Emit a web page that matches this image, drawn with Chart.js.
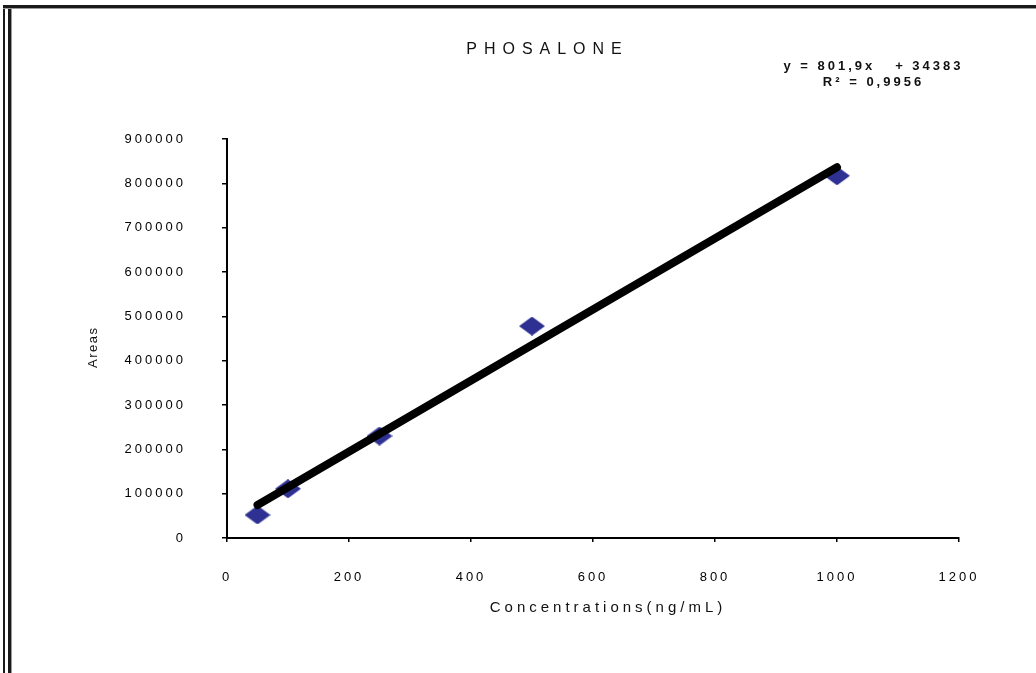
<!DOCTYPE html>
<html>
<head>
<meta charset="utf-8">
<title>PHOSALONE</title>
<script src="https://cdn.jsdelivr.net/npm/chart.js@4"></script>
<style>
  html, body { margin: 0; padding: 0; background: #fff; }
  #wrap { position: relative; width: 1036px; height: 673px; overflow: hidden; }
  .rule { position: absolute; background: #1a1a1a; }
  #chart { position: absolute; left: 0; top: 0; }
</style>
</head>
<body>
<div id="wrap">
  <div class="rule" style="left:3px; top:5px; width:2px; height:668px;"></div>
  <div class="rule" style="left:8px; top:5px; width:3px; height:668px; box-shadow:1px 0 0 #999;"></div>
  <div class="rule" style="left:3px; top:5px; width:1033px; height:3px; box-shadow:0 1px 0 #999;"></div>
  <canvas id="chart" width="1036" height="673"></canvas>
</div>
<script>
// Calibration data
var concentrations = [50, 100, 250, 500, 1000];
var areas = [52000, 111000, 230000, 478000, 817000];

// Linear fit reported on the chart
var slope = 801.9;
var intercept = 34383;
var rSquared = "0,9956";

// Axis ranges
var xMin = 0, xMax = 1200, xStep = 200;
var yMin = 0, yMax = 900000, yStep = 100000;

var fitPoints = [concentrations[0], concentrations[concentrations.length - 1]].map(function (c) {
  return { x: c, y: slope * c + intercept };
});

var points = concentrations.map(function (c, i) {
  return { x: c, y: areas[i] };
});

// Flattened diamond marker
function makeDiamond(w, h, color) {
  var c = document.createElement("canvas");
  c.width = w;
  c.height = h;
  var g = c.getContext("2d");
  g.fillStyle = color;
  g.beginPath();
  g.moveTo(w / 2, 0);
  g.lineTo(w, h / 2);
  g.lineTo(w / 2, h);
  g.lineTo(0, h / 2);
  g.closePath();
  g.fill();
  return c;
}
var diamond = makeDiamond(26, 19, "#2e3192");

var FONT = "'Liberation Sans', Arial, sans-serif";

function spacedText(ctx, text, x, y, font, spacing, align, rotate) {
  ctx.save();
  ctx.font = font;
  ctx.fillStyle = "#111";
  ctx.letterSpacing = spacing + "px";
  ctx.textAlign = align || "center";
  ctx.textBaseline = "middle";
  ctx.translate(x, y);
  if (rotate) ctx.rotate(rotate);
  ctx.fillText(text, spacing / 2, 0);
  ctx.restore();
}

// Wide tick lettering, plus title, fit equation and axis titles
var labelsPlugin = {
  id: "labels",
  beforeDraw: function (chart) {
    chart.ctx.letterSpacing = "3px";
  },
  afterDraw: function (chart) {
    var ctx = chart.ctx;
    spacedText(ctx, "PHOSALONE", 544, 50, "16px " + FONT, 7);
    spacedText(ctx, "y = 801,9x   + 34383", 872, 66, "bold 13px " + FONT, 3);
    spacedText(ctx, "R\u00b2 = " + rSquared, 872, 82, "bold 13px " + FONT, 3);
    spacedText(ctx, "Concentrations(ng/mL)", 606, 608, "15px " + FONT, 4);
    spacedText(ctx, "Areas", 93, 348, "13px " + FONT, 1.5, "center", -Math.PI / 2);
    ctx.letterSpacing = "0px";
  }
};

new Chart(document.getElementById("chart"), {
  type: "scatter",
  data: {
    datasets: [
      {
        label: "Fit",
        type: "line",
        data: fitPoints,
        borderColor: "#000",
        borderWidth: 8,
        borderCapStyle: "round",
        pointRadius: 0,
        fill: false,
        order: 0
      },
      {
        label: "Areas",
        data: points,
        pointStyle: diamond,
        pointRadius: 13,
        pointHoverRadius: 13,
        order: 1
      }
    ]
  },
  options: {
    responsive: false,
    animation: false,
    events: [],
    layout: { padding: { left: 0, right: 77, top: 139, bottom: 0 } },
    plugins: {
      legend: { display: false },
      tooltip: { enabled: false },
      title: { display: false }
    },
    scales: {
      x: {
        type: "linear",
        min: xMin,
        max: xMax,
        ticks: {
          stepSize: xStep,
          padding: 28,
          color: "#000",
          font: { family: FONT, size: 13 },
          maxRotation: 0,
          callback: function (v) { return String(v); }
        },
        grid: { drawOnChartArea: false, color: "#000", tickLength: 4, lineWidth: 1.5 },
        border: { color: "#000", width: 2 },
        afterFit: function (scale) { scale.height = 135; }
      },
      y: {
        type: "linear",
        min: yMin,
        max: yMax,
        ticks: {
          stepSize: yStep,
          padding: 36,
          color: "#000",
          font: { family: FONT, size: 13 },
          callback: function (v) { return String(v); }
        },
        grid: { drawOnChartArea: false, color: "#000", tickLength: 5, lineWidth: 1.5 },
        border: { color: "#000", width: 2 },
        afterFit: function (scale) { scale.width = 227; }
      }
    }
  },
  plugins: [labelsPlugin]
});
</script>
</body>
</html>
